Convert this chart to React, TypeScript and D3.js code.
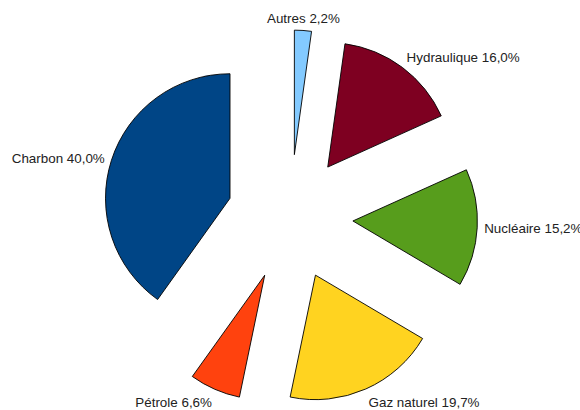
import React from "react";
import * as d3 from "d3";

const categories = ["Autres", "Hydraulique", "Nucléaire", "Gaz naturel", "Pétrole", "Charbon"];
const values = [2.2, 16.0, 15.2, 19.7, 6.6, 40.0];
const valueLabels = ["2,2%", "16,0%", "15,2%", "19,7%", "6,6%", "40,0%"];
const colors = ["#83caff", "#7e0021", "#579d1c", "#ffd320", "#ff420e", "#004586"];

const W = 580;
const H = 410;
const CX = 290;
const CY = 217.5;
const R = 124.5;
const EXPLODE = 63;
const LABEL_GAP = 7;

export default function App() {
  const pie = d3.pie<number>().sort(null).value((d) => d);
  const arcs = pie(values);
  const arcGen = d3.arc<d3.PieArcDatum<number>>().innerRadius(0).outerRadius(R);

  return (
    <svg
      width={W}
      height={H}
      style={{ position: "absolute", left: 0, top: 0, background: "#fff" }}
      fontFamily="'Liberation Sans', Arial, sans-serif"
      fontSize={13.4}
    >
      <rect x={0} y={0} width={W} height={H} fill="#fff" />
      {arcs.map((a, i) => {
        const mid = (a.startAngle + a.endAngle) / 2;
        const dx = Math.sin(mid);
        const dy = -Math.cos(mid);
        const ox = CX + dx * EXPLODE;
        const oy = CY + dy * EXPLODE;
        const lr = R + EXPLODE + LABEL_GAP;
        const lx = CX + dx * lr;
        const ly = CY + dy * lr;
        const th = 0.35;
        const anchor = dx > th ? "start" : dx < -th ? "end" : "middle";
        const vshift = dy > th ? "0.85em" : dy < -th ? "0em" : "0.38em";
        return (
          <g key={categories[i]}>
            <path
              d={arcGen(a) || ""}
              transform={`translate(${ox},${oy})`}
              fill={colors[i]}
              stroke="#000"
              strokeWidth={0.9}
              strokeLinejoin="round"
            />
            <text x={lx} y={ly} dy={vshift} textAnchor={anchor} fill="#222">
              {`${categories[i]} ${valueLabels[i]}`}
            </text>
          </g>
        );
      })}
    </svg>
  );
}
